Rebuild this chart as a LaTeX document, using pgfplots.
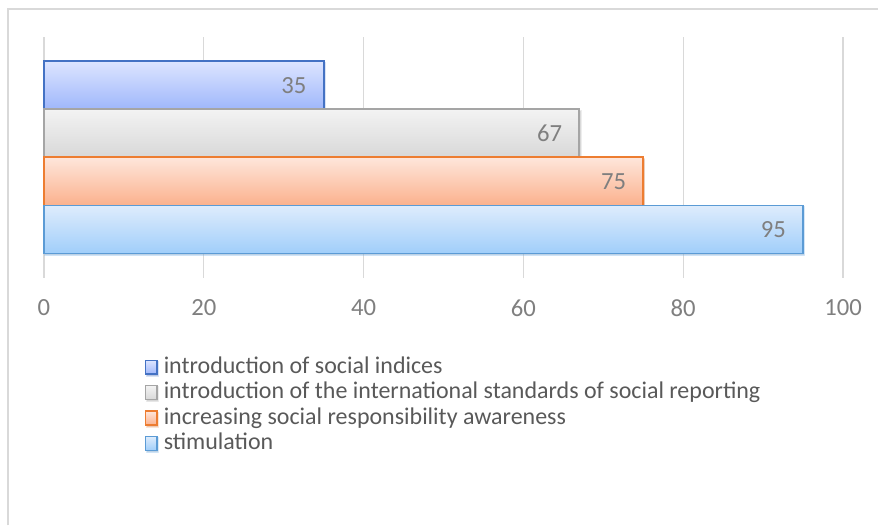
\documentclass[border=0pt]{standalone}
\usepackage{pgfplots}
\pgfplotsset{compat=1.18}
\usepackage{fontspec}
\setmainfont{Carlito}
\usetikzlibrary{shadows}
\definecolor{bA}{HTML}{4472C4}
\definecolor{bAt}{HTML}{DDE5FF}
\definecolor{bAb}{HTML}{9FB7FB}
\definecolor{bB}{HTML}{A5A5A5}
\definecolor{bBt}{HTML}{F3F3F3}
\definecolor{bBb}{HTML}{D8D8D8}
\definecolor{bC}{HTML}{ED7D31}
\definecolor{bCt}{HTML}{FEE6DB}
\definecolor{bCb}{HTML}{FBB18D}
\definecolor{bD}{HTML}{5B9BD5}
\definecolor{bDt}{HTML}{DEECFC}
\definecolor{bDb}{HTML}{A0CEFA}
\definecolor{gridc}{HTML}{D9D9D9}
\definecolor{framec}{HTML}{D9D9D9}
\definecolor{ticktext}{HTML}{7F7F7F}
\definecolor{legtext}{HTML}{595959}
\begin{document}
\begin{tikzpicture}
\path (0pt,0pt) rectangle (659.25pt,394.5pt);
\draw[color=framec, line width=1.5pt] (6pt,0pt) -- (6pt,387.75pt) -- (659.25pt,387.75pt);
\begin{axis}[
  at={(33pt,186pt)}, anchor=south west,
  scale only axis, width=600pt, height=180.75pt,
  xmin=0, xmax=100, ymin=0, ymax=5,
  xbar, bar width=1, bar shift=0,
  xtick={0,20,...,100}, ytick=\empty,
  axis line style={draw=none},
  major tick length=0pt,
  xmajorgrids, grid style={gridc, line width=0.9pt},
  /pgf/number format/assume math mode=true,
  xticklabel style={font=\fontsize{18.5}{20}\selectfont, text=ticktext, yshift=-13pt},
  nodes near coords,
  point meta=x,
  every node near coord/.append style={anchor=east, xshift=-9pt, font=\fontsize{18.5}{20}\selectfont, text=ticktext},
  legend style={at={(0.126,-0.325)}, anchor=north west, draw=none, fill=none,
    font=\fontsize{18}{19}\selectfont, text=legtext, row sep=2.1pt,
    inner sep=0pt, nodes={inner sep=0pt, text height=13pt, text depth=4pt}},
  legend cell align=left,
  legend image code/.code={\draw[#1, line width=1pt] (0pt,-5pt) rectangle (8.5pt,5.5pt); \path (13pt,0pt);},
  clip=false,
]
\addplot[draw=bA, line width=1.3pt, top color=bAt, bottom color=bAb,
  drop shadow={shadow xshift=1pt, shadow yshift=-1.2pt, opacity=0.2}] coordinates {(35,4)};
\addlegendentry{introduction of social indices}
\addplot[draw=bB, line width=1.3pt, top color=bBt, bottom color=bBb,
  drop shadow={shadow xshift=1pt, shadow yshift=-1.2pt, opacity=0.2}] coordinates {(67,3)};
\addlegendentry{introduction of the international standards of social reporting}
\addplot[draw=bC, line width=1.3pt, top color=bCt, bottom color=bCb,
  drop shadow={shadow xshift=1pt, shadow yshift=-1.2pt, opacity=0.2}] coordinates {(75,2)};
\addlegendentry{increasing social responsibility awareness}
\addplot[draw=bD, line width=1.3pt, top color=bDt, bottom color=bDb,
  drop shadow={shadow xshift=1pt, shadow yshift=-1.2pt, opacity=0.2}] coordinates {(95,1)};
\addlegendentry{stimulation}
\end{axis}
\end{tikzpicture}
\end{document}
